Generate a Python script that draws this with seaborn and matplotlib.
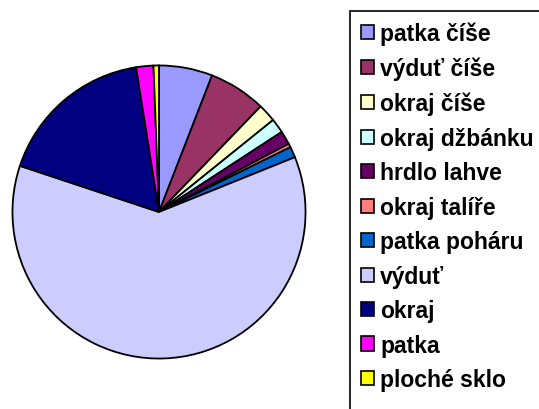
import matplotlib
matplotlib.use("Agg")
import matplotlib.pyplot as plt
from matplotlib.patches import Rectangle
import seaborn as sns

sns.set_theme(style="white")
plt.rcParams['font.family'] = ['Liberation Sans', 'DejaVu Sans']

categories = ["patka číše", "výduť číše", "okraj číše", "okraj džbánku", "hrdlo lahve",
              "okraj talíře", "patka poháru", "výduť", "okraj", "patka", "ploché sklo"]
values = [5.9, 6.3, 2.0, 1.6, 1.5, 0.4, 1.2, 61.2, 17.4, 1.9, 0.6]
colors = ["#9999FF", "#993366", "#FFFFCC", "#CCFFFF", "#660066", "#FF8080",
          "#0066CC", "#CCCCFF", "#000080", "#FF00FF", "#FFFF00"]

W, H = 539, 410
fig = plt.figure(figsize=(W / 100, H / 100), dpi=100)
fig.patch.set_facecolor("white")

# pie axes: center (159,213) px, radius 148 px
cx, cy, r = 159, 213, 148
ax = fig.add_axes([(cx - r) / W, (H - cy - r) / H, 2 * r / W, 2 * r / H])
wedges, _ = ax.pie(values, colors=colors, startangle=90, counterclock=False,
                   radius=1, wedgeprops=dict(edgecolor="black", linewidth=1.3))
ax.set_xlim(-1.01, 1.01)
ax.set_ylim(-1.01, 1.01)
ax.set_aspect("equal")
ax.axis("off")

# legend frame (extends past right and bottom edges)
fig.add_artist(Rectangle((350 / W, -0.1), 1.0, (H - 12) / H + 0.1,
                         transform=fig.transFigure, fill=False,
                         edgecolor="black", linewidth=1.2))

leg = fig.legend(wedges, categories, loc="upper left",
                 bbox_to_anchor=(361 / W, 1 - 23 / H),
                 frameon=False, prop=dict(weight="bold", size=16.5),
                 labelcolor="black",
                 handlelength=0.57, handleheight=0.57, handletextpad=0.26,
                 labelspacing=0.50, borderaxespad=0, borderpad=0)
for h in leg.legend_handles:
    h.set_edgecolor("black")
    h.set_linewidth(1.2)

fig.savefig("out.png", dpi=100, facecolor="white")
